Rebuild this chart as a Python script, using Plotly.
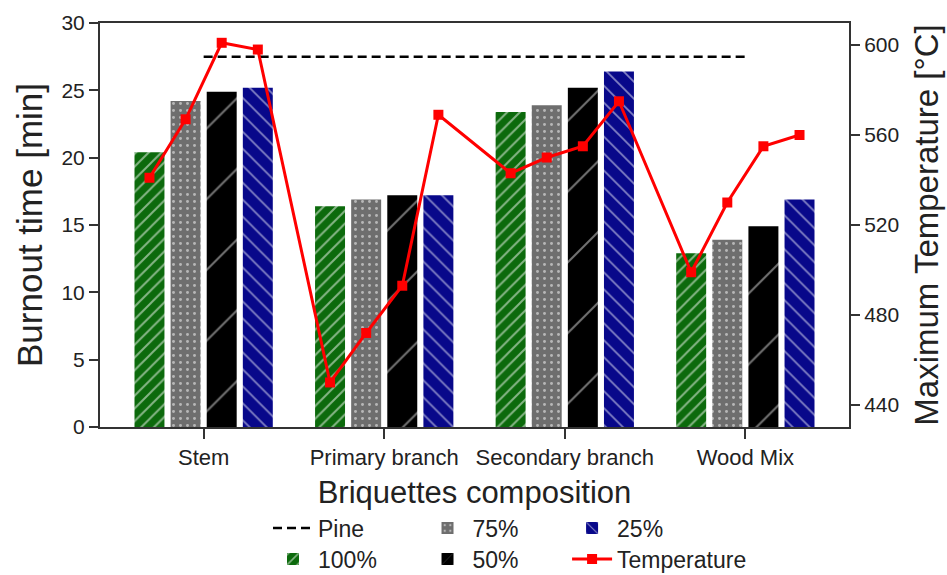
import plotly.graph_objects as go

categories = ["Stem", "Primary branch", "Secondary branch", "Wood Mix"]
series_names = ["100%", "75%", "50%", "25%"]
burnout_100 = [20.4, 16.4, 23.4, 12.9]
burnout_75 = [24.2, 16.9, 23.9, 13.9]
burnout_50 = [24.9, 17.2, 25.2, 14.9]
burnout_25 = [25.2, 17.2, 26.4, 16.9]
pine_burnout = 27.5
temp_100 = [541, 450, 543, 499]
temp_75 = [567, 472, 550, 530]
temp_50 = [601, 493, 555, 555]
temp_25 = [598, 569, 575, 560]

FONT = "Liberation Sans, Arial, sans-serif"
TXT = "#222222"

bar_values = [burnout_100, burnout_75, burnout_50, burnout_25]
temps = [temp_100, temp_75, temp_50, temp_25]
colors = ["#0c6a0c", "#6e6e6e", "#000000", "#08088a"]
patterns = [
    dict(shape="/", fgcolor="white", size=9, solidity=0.22),
    dict(shape=".", fgcolor="white", size=7, solidity=0.14),
    dict(shape="/", fgcolor="#e6e6e6", size=50, solidity=0.04),
    dict(shape="\\", fgcolor="white", size=12, solidity=0.14),
]
# one legend per entry
bar_legends = ["legend2", "legend3", "legend4", "legend5"]

bargap = 0.2
n = len(series_names)
slot = (1 - bargap) / n
xs = list(range(len(categories)))

fig = go.Figure()

for j, name in enumerate(series_names):
    fig.add_trace(go.Bar(
        x=xs, y=bar_values[j], name=name,
        marker=dict(color=colors[j], line=dict(width=0), pattern=patterns[j]),
        legend=bar_legends[j],
    ))

fig.add_trace(go.Scatter(
    x=[xs[0], xs[-1]], y=[pine_burnout, pine_burnout], mode="lines", name="Pine",
    line=dict(color="black", width=2.5, dash="9px,5px"),
    legend="legend",
))

tx, ty = [], []
for i in range(len(categories)):
    for j in range(n):
        tx.append(xs[i] + (j - (n - 1) / 2) * slot)
        ty.append(temps[j][i])
fig.add_trace(go.Scatter(
    x=tx, y=ty, mode="lines+markers", name="Temperature", yaxis="y2",
    line=dict(color="#ff0000", width=3),
    marker=dict(symbol="square", size=10, color="#ff0000"),
    legend="legend6",
))

axis_line = dict(showline=True, linecolor="#333333", linewidth=2)

row1, row2 = -0.25, -0.3267
col1, col2, col3 = 0.2243, 0.4306, 0.6236
leg_pos = {
    "legend": (col1, row1), "legend2": (col1, row2),
    "legend3": (col2, row1), "legend4": (col2, row2),
    "legend5": (col3, row1), "legend6": (col3, row2),
}
legends = {}
for key, (lx, ly) in leg_pos.items():
    legends[key] = dict(x=lx, y=ly, xanchor="left", yanchor="middle",
                        bgcolor="rgba(0,0,0,0)", font=dict(size=23),
                        tracegroupgap=0, borderwidth=0, itemwidth=40)

fig.update_layout(
    width=947, height=575,
    margin=dict(l=100, r=98, t=23, b=148, autoexpand=False),
    paper_bgcolor="white", plot_bgcolor="white",
    font=dict(family=FONT, color=TXT, size=22),
    barmode="group", bargap=bargap, bargroupgap=0.17,
    showlegend=True,
    xaxis=dict(
        range=[-0.574, 3.574], tickmode="array", tickvals=xs, ticktext=categories,
        ticks="outside", ticklen=10, tickwidth=1.5, tickcolor="#333333",
        mirror=True, showgrid=False, zeroline=False,
        tickfont=dict(size=22),
        title=dict(text="Briquettes composition", font=dict(size=31), standoff=12),
        **axis_line,
    ),
    yaxis=dict(
        range=[0, 30], tickvals=[0, 5, 10, 15, 20, 25, 30],
        ticks="outside", ticklen=9, tickwidth=1.5, tickcolor="#333333",
        showgrid=False, zeroline=False, tickfont=dict(size=21),
        title=dict(text="Burnout time [min]", font=dict(size=35), standoff=8),
        **axis_line,
    ),
    yaxis2=dict(
        overlaying="y", side="right",
        range=[430.2, 609.8], tickvals=[440, 480, 520, 560, 600],
        ticks="outside", ticklen=9, tickwidth=1.5, tickcolor="#333333",
        showgrid=False, zeroline=False, tickfont=dict(size=21),
        title=dict(text="Maximum Temperature [°C]", font=dict(size=33), standoff=17),
        **axis_line,
    ),
    **legends,
)

fig.write_html("out.html")
